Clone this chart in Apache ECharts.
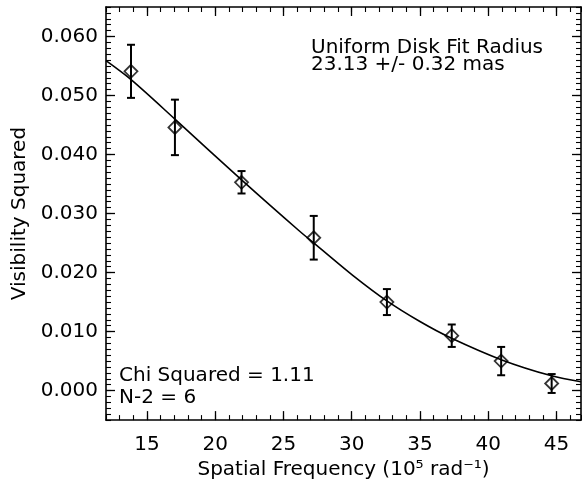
<!DOCTYPE html>
<html>
<head>
<meta charset="utf-8">
<script src="https://cdn.jsdelivr.net/npm/echarts@6/dist/echarts.min.js"></script>
<style>
  html, body { margin: 0; padding: 0; background: #fff; }
  #chart { width: 582px; height: 485px; }
</style>
</head>
<body>
<div id="chart"></div>
<script>
// measured points (spatial frequency in 1e5 rad^-1)
var freq = [13.83, 17.05, 21.93, 27.22, 32.58, 37.33, 40.95, 44.65];
var vis2 = [0.0541, 0.0446, 0.0353, 0.0259, 0.0150, 0.0093, 0.0050, 0.0012];
var vis2Err = [0.0045, 0.0047, 0.0019, 0.0037, 0.0022, 0.0019, 0.0024, 0.0016];

// fitted uniform disk curve
var fitFreq = [12.0, 13.88, 17.05, 21.93, 26.19, 27.65, 30.1, 32.58, 35.0, 37.2, 41.0, 44.65, 46.8];
var fitVis2 = [0.0559, 0.0526, 0.0460, 0.0357, 0.0270, 0.0242, 0.0195, 0.0152, 0.0117, 0.0090, 0.0052, 0.0025, 0.0015];

// axis ticks
var xMajor = [15, 20, 25, 30, 35, 40, 45];
var yMajor = [0.000, 0.010, 0.020, 0.030, 0.040, 0.050, 0.060];
var xRange = [12, 46.8];
var yRange = [-0.005, 0.065];

var FONT = '"DejaVu Sans", sans-serif';
var FS = 20;
var chart = echarts.init(document.getElementById('chart'), null, { renderer: 'canvas' });

function majorAxis(pos, range, ticks, withLabels, fmt) {
  return {
    type: 'value', position: pos, min: range[0], max: range[1],
    axisLine: { show: true, onZero: false, lineStyle: { color: '#000', width: 1.6 } },
    axisTick: { show: true, inside: true, length: 9, customValues: ticks, lineStyle: { color: '#000', width: 1.3 } },
    axisLabel: withLabels ? { show: true, customValues: ticks, formatter: fmt, color: '#000', fontSize: FS, fontFamily: FONT, margin: 8 } : { show: false },
    splitLine: { show: false }
  };
}
function minorAxis(pos, range, step) {
  return {
    type: 'value', position: pos, min: range[0], max: range[1], interval: step,
    axisLine: { show: false, onZero: false },
    axisTick: { show: true, inside: true, length: 5, lineStyle: { color: '#000', width: 1.1 } },
    axisLabel: { show: false },
    splitLine: { show: false }
  };
}

var xBottom = majorAxis('bottom', xRange, xMajor, true, function (v) { return String(v); });
xBottom.name = 'Spatial Frequency (10\u2075 rad\u207B\u00B9)';
xBottom.nameLocation = 'middle';
xBottom.nameGap = 30;
xBottom.nameTextStyle = { color: '#000', fontSize: FS, fontFamily: FONT };
xBottom.axisLabel.margin = 15;

var yLeft = majorAxis('left', yRange, yMajor, true, function (v) { return v.toFixed(3); });
yLeft.name = 'Visibility Squared';
yLeft.nameLocation = 'middle';
yLeft.nameGap = 76;
yLeft.nameTextStyle = { color: '#000', fontSize: FS, fontFamily: FONT };

var errData = freq.map(function (f, i) {
  return [f, vis2[i] - vis2Err[i], vis2[i] + vis2Err[i]];
});

var option = {
  backgroundColor: '#fff',
  animation: false,
  grid: { left: 106, top: 7, width: 475, height: 415 },
  xAxis: [
    xBottom,
    minorAxis('bottom', xRange, 1),
    majorAxis('top', xRange, xMajor, false),
    minorAxis('top', xRange, 1)
  ],
  yAxis: [
    yLeft,
    minorAxis('left', yRange, 0.001),
    majorAxis('right', yRange, yMajor, false),
    minorAxis('right', yRange, 0.001)
  ],
  series: [
    {
      type: 'line',
      data: fitFreq.map(function (f, i) { return [f, fitVis2[i]]; }),
      smooth: 0.3,
      showSymbol: false,
      lineStyle: { color: '#000', width: 1.6 },
      z: 2
    },
    {
      type: 'custom',
      data: errData,
      renderItem: function (params, api) {
        var lo = api.coord([api.value(0), api.value(1)]);
        var hi = api.coord([api.value(0), api.value(2)]);
        var hw = 4;
        var st = { stroke: '#000', lineWidth: 2 };
        return {
          type: 'group',
          children: [
            { type: 'line', shape: { x1: lo[0], y1: lo[1], x2: hi[0], y2: hi[1] }, style: st },
            { type: 'line', shape: { x1: lo[0] - hw, y1: lo[1], x2: lo[0] + hw, y2: lo[1] }, style: st },
            { type: 'line', shape: { x1: hi[0] - hw, y1: hi[1], x2: hi[0] + hw, y2: hi[1] }, style: st }
          ]
        };
      },
      z: 3
    },
    {
      type: 'scatter',
      data: freq.map(function (f, i) { return [f, vis2[i]]; }),
      symbol: 'diamond',
      symbolSize: [13, 13],
      itemStyle: { color: 'rgba(0,0,0,0)', borderColor: '#000', borderWidth: 1.8 },
      z: 4
    }
  ],
  graphic: [
    {
      type: 'text', left: 311, top: 38,
      style: { text: 'Uniform Disk Fit Radius\n23.13 +/- 0.32 mas', fontSize: FS, fontFamily: FONT, fill: '#000', lineHeight: 17 }
    },
    {
      type: 'text', left: 119, top: 364,
      style: { text: 'Chi Squared = 1.11\nN-2 = 6', fontSize: FS, fontFamily: FONT, fill: '#000', lineHeight: 22.6 }
    }
  ]
};

chart.setOption(option);
</script>
</body>
</html>
